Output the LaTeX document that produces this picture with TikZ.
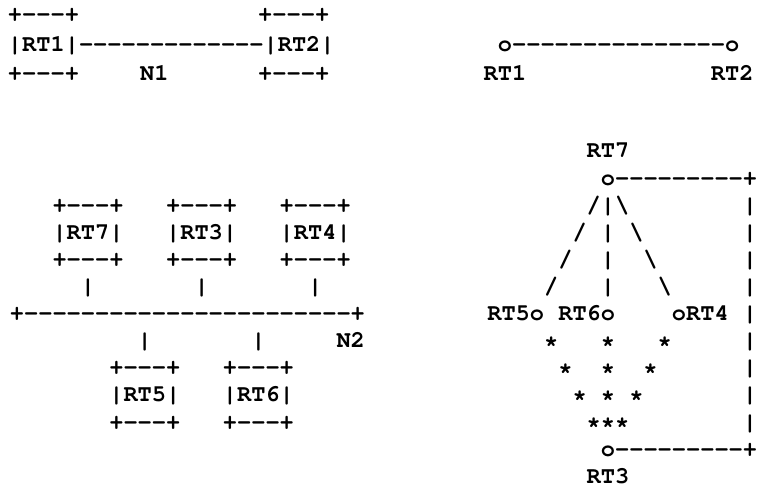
\documentclass[tikz,border=0pt]{standalone}
\usepackage[T1]{fontenc}
% Courier has -- and --- ligatures: set dashes one by one
\newcommand{\asciidash}[1]{\foreach \i in {1,...,#1}{-}}
\begin{document}
\begin{tikzpicture}[x=1pt, y=1pt,
ascii/.style={font=\fontfamily{pcr}\fontseries{b}\fontsize{23.67}{27}\selectfont,
  anchor=base west, inner sep=0pt, outer sep=0pt}]
\useasboundingbox (0,0) rectangle (762,-486);

% point-to-point link, boxes
\begin{scope}[shift={(8pt,-22pt)}, x=13.9pt, y=-29.5pt]
\node [ascii] (rt1top) at (0,0) {+\asciidash{3}+};
\node [ascii] (rt2top) at (18,0) {+\asciidash{3}+};
\node [ascii] (nlink) at (0,1) {|RT1|\asciidash{13}|RT2|};
\node [ascii] (rt1bot) at (0,2) {+\asciidash{3}+};
\node [ascii] (nlabel) at (9.5,2) {N1};
\node [ascii] (rt2bot) at (18,2) {+\asciidash{3}+};
\end{scope}

% point-to-point link, graph
\begin{scope}[shift={(497.9pt,-22pt)}, x=14.2pt, y=-29.5pt]
\node [ascii] (gedge) at (0,1) {o\asciidash{15}o};
\node [ascii] (grt1) at (-1,2) {RT1};
\node [ascii] (grt2) at (15,2) {RT2};
\end{scope}

% broadcast network, boxes
\begin{scope}[shift={(9.9pt,-158pt)}, x=14.2pt, y=-27.1pt]
\node [ascii] (rt7top) at (3,2) {+\asciidash{3}+};
\node [ascii] (rt3top) at (11,2) {+\asciidash{3}+};
\node [ascii] (rt4top) at (19,2) {+\asciidash{3}+};
\node [ascii] (rt7box) at (3,3) {|RT7|};
\node [ascii] (rt3box) at (11,3) {|RT3|};
\node [ascii] (rt4box) at (19,3) {|RT4|};
\node [ascii] (rt7bot) at (3,4) {+\asciidash{3}+};
\node [ascii] (rt3bot) at (11,4) {+\asciidash{3}+};
\node [ascii] (rt4bot) at (19,4) {+\asciidash{3}+};
\node [ascii] (rt7leg) at (5,5) {|};
\node [ascii] (rt3leg) at (13,5) {|};
\node [ascii] (rt4leg) at (21,5) {|};
\node [ascii] (bus) at (0,6) {+\asciidash{23}+};
\node [ascii] (rt5leg) at (9,7) {|};
\node [ascii] (rt6leg) at (17,7) {|};
\node [ascii] (buslabel) at (23,7) {N2};
\node [ascii] (rt5top) at (7,8) {+\asciidash{3}+};
\node [ascii] (rt6top) at (15,8) {+\asciidash{3}+};
\node [ascii] (rt5box) at (7,9) {|RT5|};
\node [ascii] (rt6box) at (15,9) {|RT6|};
\node [ascii] (rt5bot) at (7,10) {+\asciidash{3}+};
\node [ascii] (rt6bot) at (15,10) {+\asciidash{3}+};
\end{scope}

% broadcast network, graph
\begin{scope}[shift={(600.9pt,-158pt)}, x=14.2pt, y=-27.1pt]
\node [ascii] (hrt7) at (-1,0) {RT7};
\node [ascii] (hub7) at (0,1) {o\asciidash{9}+};
\node [ascii] (fan1) at (-1,2) {/|\textbackslash};
\node [ascii] (fan2) at (-2,3) {/ | \textbackslash};
\node [ascii] (fan3) at (-3,4) {/~~|~~\textbackslash};
\node [ascii] (fan4) at (-4,5) {/~~~|~~~\textbackslash};
\node [ascii] (hrt56) at (-8,6) {RT5o RT6o};
\node [ascii] (hrt4) at (5,6) {oRT4 |};
\node [ascii] (star1) at (-4,7) {*~~~*~~~*};
\node [ascii] (star2) at (-3,8) {*~~*~~*};
\node [ascii] (star3) at (-2,9) {* * *};
\node [ascii] (star4) at (-1,10) {***};
\node [ascii] (hub3) at (0,11) {o\asciidash{9}+};
\node [ascii] (hrt3) at (-1,12) {RT3};
\foreach \r in {2,3,4,5,7,8,9,10}
  \node [ascii] (side\r) at (10,\r) {|};
\end{scope}
\end{tikzpicture}
\end{document}
